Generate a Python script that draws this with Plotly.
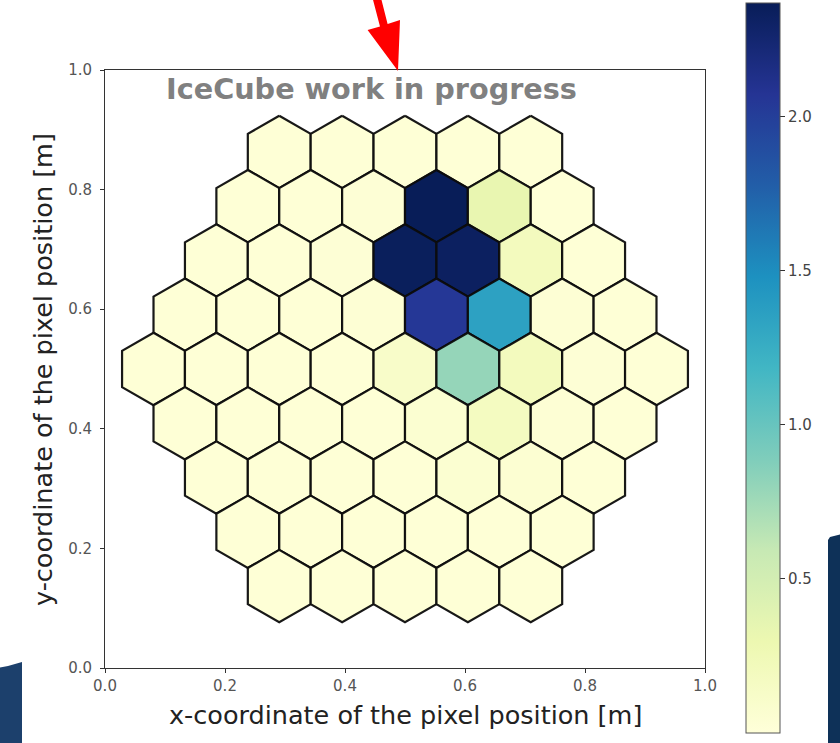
import math
import plotly.graph_objects as go
from plotly.colors import sequential, sample_colorscale

# ---------------- data ----------------
row_counts = [5, 6, 7, 8, 9, 8, 7, 6, 5]          # pixels per row (top -> bottom)
row_values = [
    [0.02, 0.02, 0.02, 0.02, 0.02],
    [0.02, 0.02, 0.03, 2.37, 0.33, 0.02],
    [0.02, 0.02, 0.03, 2.35, 2.33, 0.20, 0.02],
    [0.02, 0.02, 0.02, 0.04, 2.05, 1.35, 0.04, 0.02],
    [0.02, 0.02, 0.02, 0.02, 0.12, 0.80, 0.20, 0.03, 0.02],
    [0.02, 0.02, 0.02, 0.02, 0.06, 0.18, 0.04, 0.02],
    [0.02, 0.02, 0.02, 0.02, 0.06, 0.05, 0.02],
    [0.02, 0.02, 0.02, 0.02, 0.02, 0.02],
    [0.02, 0.02, 0.02, 0.02, 0.02],
]
axis_ticks = [0.0, 0.2, 0.4, 0.6, 0.8, 1.0]
cbar_ticks = [0.5, 1.0, 1.5, 2.0]
cmin, cmax = 0.0, 2.37
hex_radius = 0.0605
camera_center = (0.5, 0.5)
x_label = "x-coordinate of the pixel position [m]"
y_label = "y-coordinate of the pixel position [m]"
watermark = "IceCube work in progress"

# ---------------- figure ----------------
W, H = 840, 743
ML, MR, MT, MB = 105, 135, 70, 75
PW, PH = W - ML - MR, H - MT - MB

def px(xp, yp):
    """pixel -> paper coords"""
    return (xp - ML) / PW, (H - MB - yp) / PH

cs = sequential.YlGnBu
n_cs = len(cs)
colorscale = [[i / (n_cs - 1), c] for i, c in enumerate(cs)]

fig = go.Figure()
w = math.sqrt(3) * hex_radius
n_rows = len(row_counts)
mid = (n_rows - 1) / 2
for r, (n, vals) in enumerate(zip(row_counts, row_values)):
    cy = camera_center[1] + (mid - r) * 1.5 * hex_radius
    for i, v in enumerate(vals):
        cx = camera_center[0] + (i - (n - 1) / 2) * w
        xs, ys = [], []
        for k in range(7):
            a = math.radians(90 + 60 * k)
            xs.append(cx + hex_radius * math.cos(a))
            ys.append(cy + hex_radius * math.sin(a))
        col = sample_colorscale(colorscale, [(v - cmin) / (cmax - cmin)])[0]
        fig.add_trace(go.Scatter(
            x=xs, y=ys, mode="lines", fill="toself", fillcolor=col,
            line=dict(color="rgba(12,12,12,0.95)", width=2.2),
            hoverinfo="skip", showlegend=False))

# colorbar carrier (point placed outside the visible axis range)
cbx, _ = px(746, 0)
_, cby = px(0, 368)
fig.add_trace(go.Scatter(
    x=[-5, -5], y=[-5, -5], mode="markers", showlegend=False, hoverinfo="skip",
    marker=dict(size=1, color=[cmin, cmax], cmin=cmin, cmax=cmax,
                colorscale=colorscale, showscale=True,
                colorbar=dict(x=cbx, xanchor="left", y=cby, yanchor="middle",
                              thickness=34, lenmode="pixels", len=730,
                              xpad=0, ypad=0, outlinewidth=1, outlinecolor="#555",
                              tickvals=cbar_ticks, tickformat=".1f",
                              ticks="outside", ticklen=5, tickcolor="#333",
                              tickfont=dict(family="DejaVu Sans", size=15, color="#444")))))

axis_common = dict(range=[0, 1], showgrid=False, zeroline=False, showline=True,
                   mirror=True, linecolor="#333", linewidth=1, ticks="outside",
                   ticklen=4, tickcolor="#333", tickvals=axis_ticks, tickformat=".1f",
                   tickfont=dict(family="DejaVu Sans", size=15, color="#555"))
fig.update_layout(
    width=W, height=H, margin=dict(l=ML, r=MR, t=MT, b=MB, pad=0),
    plot_bgcolor="white", paper_bgcolor="white",
    xaxis=axis_common, yaxis=dict(axis_common, ticklabelstandoff=5),
    font=dict(family="DejaVu Sans"),
)

# axis titles
lx, ly = px(405, 715)
fig.add_annotation(x=lx, y=ly, xref="paper", yref="paper", text=x_label, showarrow=False,
                   xanchor="center", yanchor="middle",
                   font=dict(family="DejaVu Sans", size=25.5, color="#222"))
lx, ly = px(43, 370)
fig.add_annotation(x=lx, y=ly, xref="paper", yref="paper", text=y_label, showarrow=False,
                   textangle=-90, xanchor="center", yanchor="middle",
                   font=dict(family="DejaVu Sans", size=25.5, color="#222"))
# watermark
fig.add_annotation(x=0.4435, y=0.968, xref="x", yref="y", text=watermark, showarrow=False,
                   xanchor="center", yanchor="middle",
                   font=dict(family="DejaVu Sans", size=28.7, color="#808080", weight="bold"))

# decorative shapes (red arrow + slide background pieces)
def path(points):
    pts = [px(a, b) for a, b in points]
    return "M " + " L ".join(f"{a:.5f},{b:.5f}" for a, b in pts) + " Z"

arrow = [(372.0, -4.0), (380.0, -6.0), (387.6, 24.0), (400.0, 20.0), (398.0, 71.0),
         (367.6, 30.0), (380.0, 26.4)]
fig.add_shape(type="path", path=path(arrow), xref="paper", yref="paper",
              fillcolor="#ff0000", line=dict(width=0), layer="above")
bl = [(-2, 668), (8, 666), (22, 662), (22, 745), (-2, 745)]
fig.add_shape(type="path", path=path(bl), xref="paper", yref="paper",
              fillcolor="#1c406c", line=dict(width=0), layer="below")
br = [(828, 540), (830, 537), (842, 534), (842, 745), (828, 745)]
fig.add_shape(type="path", path=path(br), xref="paper", yref="paper",
              fillcolor="#0e3158", line=dict(width=0), layer="below")

fig.write_html("out.html", config={"displayModeBar": False},
               post_script="document.body.style.margin='0';document.body.style.overflow='hidden';")
